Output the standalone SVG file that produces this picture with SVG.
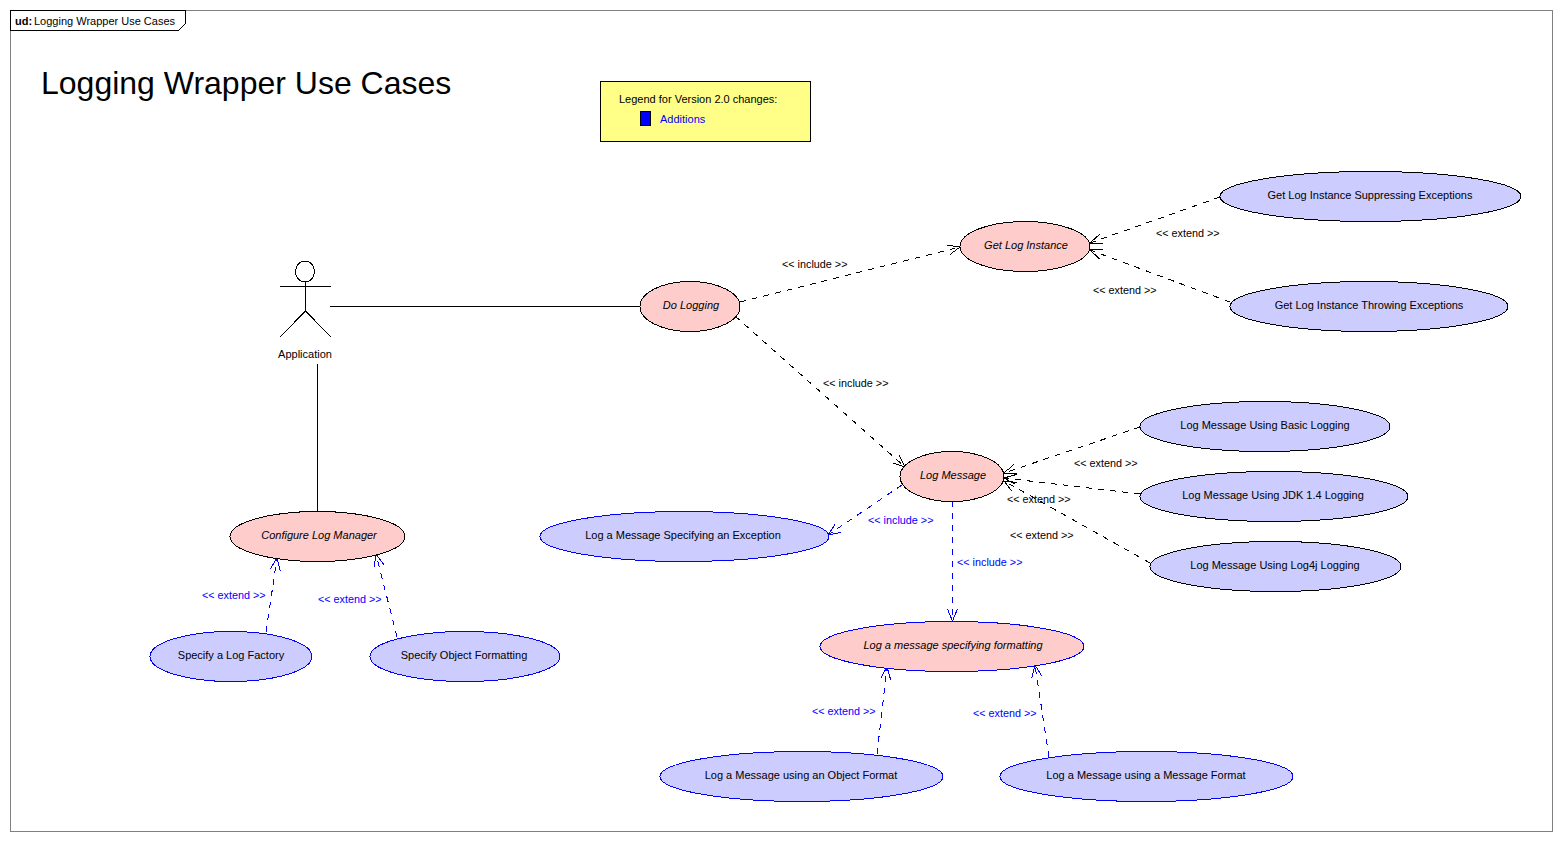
<svg xmlns="http://www.w3.org/2000/svg" width="1562" height="841" viewBox="0 0 1562 841">
<style>
text{font-family:"Liberation Sans",Arial,sans-serif;font-size:11px;fill:#000}
.l{font-size:10.8px}
.c{text-anchor:middle}
.i{font-style:italic}
.b{fill:#00f}
ellipse,path,rect{shape-rendering:crispEdges}
.pink{fill:#fcc;stroke:#000;stroke-width:1}
.blue{fill:#ccf;stroke:#00f;stroke-width:1}
.blk{fill:#ccf;stroke:#000;stroke-width:1}
.k{fill:none;stroke:#000;stroke-width:1}
.dk{fill:none;stroke:#000;stroke-width:1;stroke-dasharray:6 6;marker-end:url(#ak)}
.db{fill:none;stroke:#00f;stroke-width:1;stroke-dasharray:6 6;marker-end:url(#ab)}
</style>
<defs>
<marker id="ak" markerUnits="userSpaceOnUse" markerWidth="16" markerHeight="16" refX="13" refY="8" orient="auto" overflow="visible"><path d="M1 3L13 8L1 13" fill="none" stroke="#000"/></marker>
<marker id="ab" markerUnits="userSpaceOnUse" markerWidth="16" markerHeight="16" refX="13" refY="8" orient="auto" overflow="visible"><path d="M1 3L13 8L1 13" fill="none" stroke="#00f"/></marker>
</defs>
<rect width="1562" height="841" fill="#fff"/>
<g id="frame">
<rect x="10.500" y="10.500" width="1542" height="821" fill="none" stroke="#808080"/>
<path d="M10.500 30.500H178.500L185.500 23.500V10.500H10.500Z" fill="#fff" stroke="#000"/>
<text x="15" y="25" font-weight="bold">ud:</text>
<text x="34" y="25">Logging Wrapper Use Cases</text>
</g>
<text id="title" x="41" y="94" style="font-size:32px">Logging Wrapper Use Cases</text>
<g id="legend">
<rect x="600.500" y="81.500" width="210" height="60" fill="#ff8" stroke="#000"/>
<text x="619" y="103">Legend for Version 2.0 changes:</text>
<rect x="640.500" y="111.500" width="10" height="14" fill="#00f" stroke="#000"/>
<text x="660" y="123" class="b">Additions</text>
</g>
<g id="connectors">
<path class="k" d="M330 306.500H640M317.500 364V511"/>
<path class="dk" d="M740 302L960 247"/>
<path class="dk" d="M735 316L905 467"/>
<path class="dk" d="M1220 197L1090 243"/>
<path class="dk" d="M1230 302L1090 250"/>
<path class="dk" d="M1140 427L1004 473"/>
<path class="dk" d="M1140 494L1004 478"/>
<path class="dk" d="M1150 563L1004 481"/>
<path class="db" d="M902 485L828 535"/>
<path class="db" d="M952.500 501V621"/>
<path class="db" d="M266 632L277 558"/>
<path class="db" d="M397 637L376 554"/>
<path class="db" d="M877 754L887 667"/>
<path class="db" d="M1049 757L1035 665"/>
<text x="782" y="268" class="l">&lt;&lt; include &gt;&gt;</text>
<text x="823" y="387" class="l">&lt;&lt; include &gt;&gt;</text>
<text x="1156" y="237" class="l">&lt;&lt; extend &gt;&gt;</text>
<text x="1093" y="294" class="l">&lt;&lt; extend &gt;&gt;</text>
<text x="1074" y="467" class="l">&lt;&lt; extend &gt;&gt;</text>
<text x="1007" y="503" class="l">&lt;&lt; extend &gt;&gt;</text>
<text x="1010" y="539" class="l">&lt;&lt; extend &gt;&gt;</text>
<text x="868" y="524" class="b l">&lt;&lt; include &gt;&gt;</text>
<text x="957" y="566" class="b l">&lt;&lt; include &gt;&gt;</text>
<text x="202" y="599" class="b l">&lt;&lt; extend &gt;&gt;</text>
<text x="318" y="603" class="b l">&lt;&lt; extend &gt;&gt;</text>
<text x="812" y="715" class="b l">&lt;&lt; extend &gt;&gt;</text>
<text x="973" y="717" class="b l">&lt;&lt; extend &gt;&gt;</text>
</g>
<g id="actor-application">
<ellipse cx="305" cy="271.500" rx="9.500" ry="10.500" class="k"/>
<path class="k" d="M280 286.500H331M305.500 282V311L280 337M305.500 311L331 337"/>
<text x="305" y="358" class="c">Application</text>
</g>
<g id="do-logging"><ellipse cx="690" cy="306.500" rx="50" ry="25" class="pink"/><text x="691" y="309" class="c i">Do Logging</text></g>
<g id="get-log-instance"><ellipse cx="1025" cy="246.500" rx="65" ry="25" class="pink"/><text x="1026" y="249" class="c i">Get Log Instance</text></g>
<g id="suppressing"><ellipse cx="1370.500" cy="196.500" rx="150.500" ry="25" class="blk"/><text x="1370" y="199" class="c">Get Log Instance Suppressing Exceptions</text></g>
<g id="throwing"><ellipse cx="1369" cy="306.500" rx="139" ry="25" class="blk"/><text x="1369" y="309" class="c">Get Log Instance Throwing Exceptions</text></g>
<g id="log-message"><ellipse cx="952" cy="476.500" rx="52" ry="25" class="pink"/><text x="953" y="479" class="c i">Log Message</text></g>
<g id="basic"><ellipse cx="1265" cy="426.500" rx="125" ry="25" class="blk"/><text x="1265" y="429" class="c">Log Message Using Basic Logging</text></g>
<g id="jdk"><ellipse cx="1274" cy="496.500" rx="134" ry="25" class="blk"/><text x="1273" y="499" class="c">Log Message Using JDK 1.4 Logging</text></g>
<g id="log4j"><ellipse cx="1275.500" cy="566.500" rx="125.500" ry="25" class="blk"/><text x="1275" y="569" class="c">Log Message Using Log4j Logging</text></g>
<g id="exception"><ellipse cx="684.500" cy="536.500" rx="144.500" ry="25" class="blue"/><text x="683" y="539" class="c">Log a Message Specifying an Exception</text></g>
<g id="formatting"><ellipse cx="952" cy="646.500" rx="132" ry="25" class="pink" style="stroke:#00f"/><text x="953" y="649" class="c i">Log a message specifying formatting</text></g>
<g id="object-format"><ellipse cx="801.500" cy="776.500" rx="141.500" ry="25" class="blue"/><text x="801" y="779" class="c">Log a Message using an Object Format</text></g>
<g id="message-format"><ellipse cx="1146.500" cy="776.500" rx="146.500" ry="25" class="blue"/><text x="1146" y="779" class="c">Log a Message using a Message Format</text></g>
<g id="configure"><ellipse cx="317.500" cy="536.500" rx="87.500" ry="25" class="pink"/><text x="319" y="539" class="c i">Configure Log Manager</text></g>
<g id="log-factory"><ellipse cx="231" cy="656.500" rx="81" ry="25" class="blue"/><text x="231" y="659" class="c">Specify a Log Factory</text></g>
<g id="object-formatting"><ellipse cx="465" cy="656.500" rx="95" ry="25" class="blue"/><text x="464" y="659" class="c">Specify Object Formatting</text></g>
</svg>
